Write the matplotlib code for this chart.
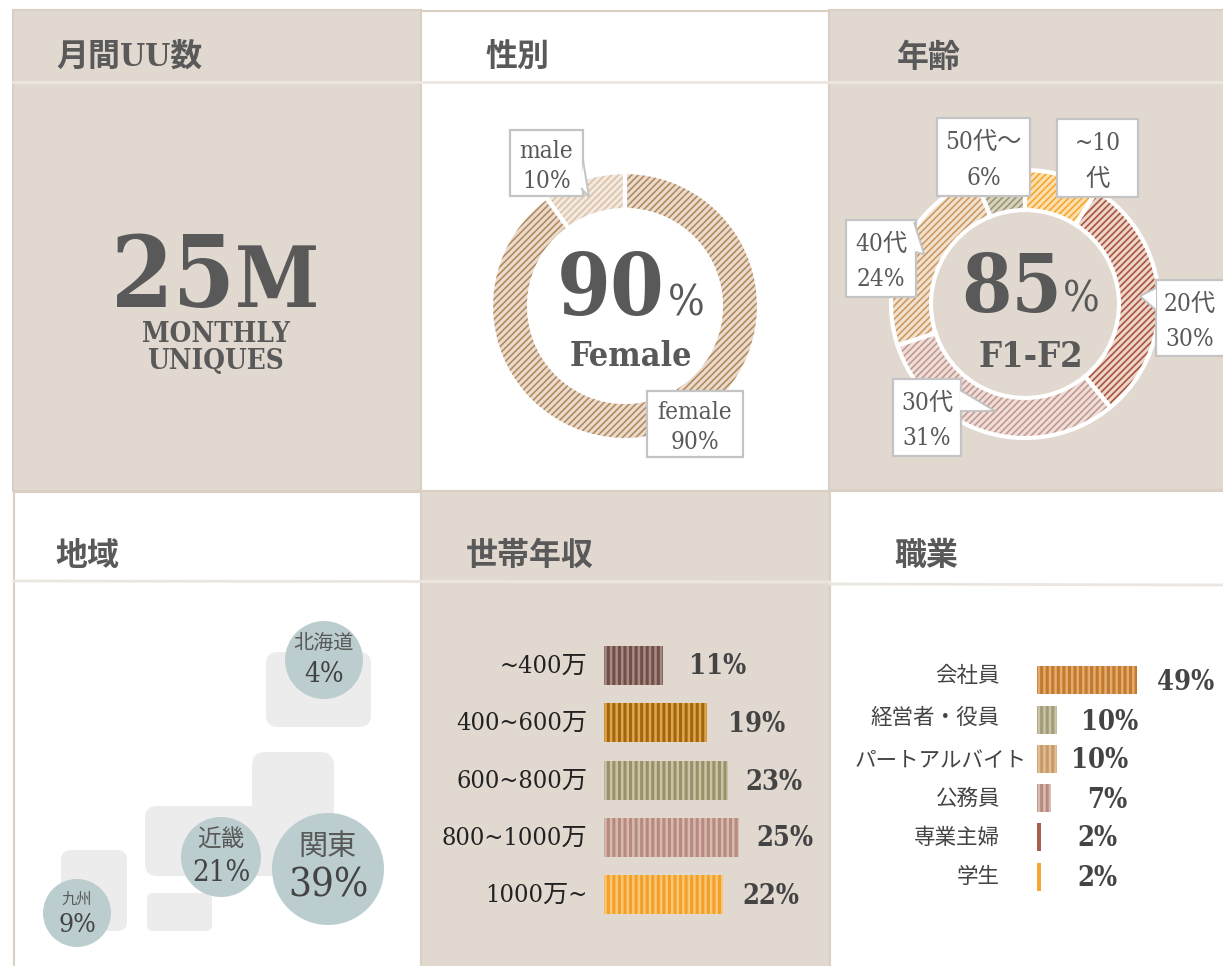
import matplotlib
matplotlib.use('Agg')
import matplotlib.pyplot as plt
from matplotlib.patches import Rectangle, FancyBboxPatch, Circle, Polygon

W, H = 1223, 966
BEIGE = '#e1d9d0'
BORDER = '#d9cfc3'
DIVIDER = '#ebe6df'
DARK = '#595959'
BOXEDGE = '#c4c4c4'
SERIF = ['DejaVu Serif', 'Noto Sans CJK JP']
JP = ['Noto Sans CJK JP', 'DejaVu Sans']
COND = 'condensed'

# data
gender_labels = ['female', 'male']
gender_values = [90, 10]
gender_fill = ['#e9dccf', '#f3e9df']
gender_hatch = ['#b58a5e', '#dcc3ab']

age_labels = ['~10代', '20代', '30代', '40代', '50代〜']
age_values = [9, 30, 31, 24, 6]
age_fill = ['#fde0b0', '#edd5cb', '#eeddd8', '#f1e1cf', '#d8d3c0']
age_hatch = ['#f5a731', '#a8553c', '#c29a8f', '#cc9a63', '#9c9672']

region_labels = ['北海道', '関東', '近畿', '九州']
region_values = [4, 39, 21, 9]

income_labels = ['~400万', '400~600万', '600~800万', '800~1000万', '1000万~']
income_values = [11, 19, 23, 25, 22]
income_fill = ['#a58a84', '#dba750', '#c9c4a8', '#d6b9b1', '#fcc772']
income_hatch = ['#714f48', '#a5650c', '#9a9068', '#b88a7e', '#f2a02b']

job_labels = ['会社員', '経営者・役員', 'パートアルバイト', '公務員', '専業主婦', '学生']
job_values = [49, 10, 10, 7, 2, 2]
job_fill = ['#e3ab72', '#c9c4a8', '#e0bd95', '#d9bcb4', '#a8604c', '#f5a731']
job_hatch = ['#c27a2c', '#a39c78', '#c79a68', '#b88a7e', '#a8604c', '#f5a731']

fig = plt.figure(figsize=(W / 100, H / 100), dpi=100, facecolor='white')


def px_axes(x0, y0, x1, y1, z):
    a = fig.add_axes([x0 / W, 1 - y1 / H, (x1 - x0) / W, (y1 - y0) / H], zorder=z)
    a.axis('off')
    return a


# background panels
bg = px_axes(0, 0, W, H, 0)
bg.set_xlim(0, W)
bg.set_ylim(H, 0)
panels = [(13, 10, 408, 481, BEIGE), (421, 11, 408, 480, 'white'), (829, 10, 400, 480, BEIGE),
          (14, 492, 407, 480, 'white'), (421, 491, 409, 480, BEIGE), (830, 491, 400, 480, 'white')]
for x, y, w, h, c in panels:
    bg.add_patch(Rectangle((x, y), w, h, facecolor=c, edgecolor=BORDER, linewidth=1.5))
bg.plot([13, 829], [82, 82], color=DIVIDER, lw=2)
bg.plot([829, W], [82, 82], color=DIVIDER, lw=2)
bg.plot([14, 830], [581, 582], color=DIVIDER, lw=2)
bg.plot([830, W], [584, 585], color=DIVIDER, lw=2)

titles = [(56, 57, '月間UU数'), (486, 58, '性別'), (897, 58, '年齢'),
          (55, 556, '地域'), (466, 556, '世帯年収'), (894, 556, '職業')]
for x, y, s in titles:
    bg.text(x, y, s, family=SERIF, stretch=COND, weight='bold', fontsize=23, color=DARK, ha='left', va='center')

# map blocks
map_blocks = [(266, 652, 105, 75, 12), (252, 752, 82, 110, 14), (145, 806, 189, 70, 12),
              (147, 893, 65, 38, 6), (61, 850, 66, 81, 10)]
for x, y, w, h, r in map_blocks:
    bg.add_patch(FancyBboxPatch((x + r, y + r), w - 2 * r, h - 2 * r,
                                boxstyle=f'round,pad={r},rounding_size={r}',
                                facecolor='#ececec', edgecolor='none'))

plt.rcParams['hatch.linewidth'] = 1.2


def donut(cx, cy, r, inner, values, fill, hatch, z=1):
    a = px_axes(cx - r, cy - r, cx + r, cy + r, z)
    wp = dict(width=1 - inner / r, linewidth=0)
    wedges, _ = a.pie(values, startangle=90, counterclock=False, radius=1, colors=fill, wedgeprops=wp)
    for wd, h in zip(wedges, hatch):
        wd.set_hatch('/////')
        wd.set_edgecolor(h)
    a.set_xlim(-1, 1)
    a.set_ylim(-1, 1)
    return a


def separators(ax, values, r, inner):
    ax.pie(values, startangle=90, counterclock=False, radius=1, colors=['none'] * len(values),
           wedgeprops=dict(width=1 - inner / r, linewidth=3, edgecolor='white'))
    ax.set_xlim(-1, 1)
    ax.set_ylim(-1, 1)


a1 = donut(625, 306, 134, 96, gender_values, gender_fill, gender_hatch)
a2 = donut(1025, 304, 134, 94, age_values, age_fill, age_hatch)
separators(a1, gender_values, 134, 96)
separators(a2, age_values, 134, 94)

plt.rcParams['hatch.linewidth'] = 2.2

# income bars
inc_y = [665, 722, 780, 837, 894]
a_inc = px_axes(604, 640, 824, 920, 1)
a_inc.set_xlim(0, 220 / 5.4)
a_inc.set_ylim(920, 640)
a_inc.barh(inc_y, income_values, height=39, color=income_fill, edgecolor=income_hatch, hatch='|||', linewidth=0)

# job bars
job_y = [680, 720, 759, 798, 837, 877]
a_job = px_axes(1037, 660, 1223, 895, 1)
a_job.set_xlim(0, 186 / 2.04)
a_job.set_ylim(895, 660)
a_job.barh(job_y, job_values, height=28, color=job_fill, edgecolor=job_hatch, hatch='|||', linewidth=0)

# overlay
ov = px_axes(0, 0, W, H, 3)
ov.set_xlim(0, W)
ov.set_ylim(H, 0)
ov.patch.set_alpha(0)

# monthly uniques
ov.text(111, 307, '25', family=SERIF, stretch=COND, weight='bold', fontsize=72, color=DARK, ha='left', va='baseline')
ov.text(235, 307, 'M', family=SERIF, stretch=COND, weight='bold', fontsize=61, color=DARK, ha='left', va='baseline')
ov.text(216, 335, 'MONTHLY', family=SERIF, stretch=COND, weight='bold', fontsize=20, color=DARK, ha='center', va='center')
ov.text(216, 362, 'UNIQUES', family=SERIF, stretch=COND, weight='bold', fontsize=20, color=DARK, ha='center', va='center')

# donut centers
ov.text(557, 315, f'{gender_values[0]}', family=SERIF, stretch=COND, weight='bold', fontsize=62, color=DARK, va='baseline')
ov.text(668, 315, '%', family=SERIF, stretch=COND, fontsize=31, color=DARK, va='baseline')
ov.text(631, 356, 'Female', family=SERIF, stretch=COND, weight='bold', fontsize=24.5, color=DARK, ha='center', va='center')
ov.text(961, 312, f'{sum(age_values[1:4])}', family=SERIF, stretch=COND, weight='bold', fontsize=58, color=DARK, va='baseline')
ov.text(1063, 312, '%', family=SERIF, stretch=COND, fontsize=31, color=DARK, va='baseline')
ov.text(1031, 357, 'F1-F2', family=SERIF, stretch=COND, weight='bold', fontsize=26, color=DARK, ha='center', va='center')


def callout(x0, y0, x1, y1, lines, tip=None, cx=None):
    ov.add_patch(Rectangle((x0, y0), x1 - x0, y1 - y0, facecolor='white', edgecolor=BOXEDGE, linewidth=1.6))
    if tip is not None:
        ov.add_patch(Polygon(tip, closed=False, facecolor='white', edgecolor=BOXEDGE, linewidth=1.4))
    if cx is None:
        cx = (x0 + x1) / 2
    ov.text(cx, (y0 * 3 + y1) / 4 + 5, lines[0], family=SERIF, stretch=COND, fontsize=17.5, color=DARK, ha='center', va='center')
    ov.text(cx, (y0 + y1 * 3) / 4 + 2, lines[1], family=SERIF, stretch=COND, fontsize=17.5, color=DARK, ha='center', va='center')


callout(510, 130, 583, 196, [gender_labels[1], f'{gender_values[1]}%'],
        tip=[(583, 160), (589, 197), (581, 188)])
callout(647, 391, 743, 457, [gender_labels[0], f'{gender_values[0]}%'])
callout(1057, 119, 1138, 197, ['~10', '代'])
callout(937, 118, 1030, 196, [age_labels[4], f'{age_values[4]}%'])
callout(846, 220, 916, 297, [age_labels[3], f'{age_values[3]}%'], tip=[(914, 222), (924, 254), (915, 252)])
callout(1156, 280, 1240, 356, [age_labels[1], f'{age_values[1]}%'], tip=[(1156, 288), (1140, 296), (1156, 310)], cx=1190)
callout(893, 379, 961, 456, [age_labels[2], f'{age_values[2]}%'], tip=[(960, 390), (995, 411), (960, 411)])

# region bubbles: x, y, radius, label size, value size, label y, value y
bubbles = [(324, 660, 39, 14.5, 20, 643, 674), (328, 869, 56, 21, 29, 847, 886),
           (221, 857, 40, 17, 21, 840, 873), (77, 913, 34, 11, 19, 899, 925)]
for (x, y, r, f1, f2, ly, vy), lab, val in zip(bubbles, region_labels, region_values):
    ov.add_patch(Circle((x, y), r, facecolor='#bbcdcf', edgecolor='none'))
    ov.text(x, ly, lab, family=JP, fontsize=f1, color=DARK, ha='center', va='center')
    ov.text(x, vy, f'{val}%', family=SERIF, stretch=COND, fontsize=f2, color='#444444', ha='center', va='center')

# income labels
inc_val_cx = [718, 757, 774, 785, 771]
for y, lab, val, vx in zip(inc_y, income_labels, income_values, inc_val_cx):
    ov.text(587, y + 1, lab, family=SERIF, stretch=COND, fontsize=18.2, color='#222222', ha='right', va='center')
    ov.text(vx, y + 2, f'{val}%', family=SERIF, stretch=COND, weight='bold', fontsize=19.5, color='#444444', ha='center', va='center')

# job labels
job_lab_x = [1000, 1000, 1027, 1000, 1000, 1000]
job_val_cx = [1186, 1110, 1100, 1107, 1097, 1097]
job_lab_y = [676, 718, 761, 799, 838, 877]
for y, ly, lx, lab, val, vx in zip(job_y, job_lab_y, job_lab_x, job_labels, job_values, job_val_cx):
    ov.text(lx, ly, lab, family=JP, fontsize=15.5, color='#444444', ha='right', va='center')
    ov.text(vx, y + 2, f'{val}%', family=SERIF, stretch=COND, weight='bold', fontsize=19.5, color='#444444', ha='center', va='center')

fig.savefig('out.png', dpi=100)
